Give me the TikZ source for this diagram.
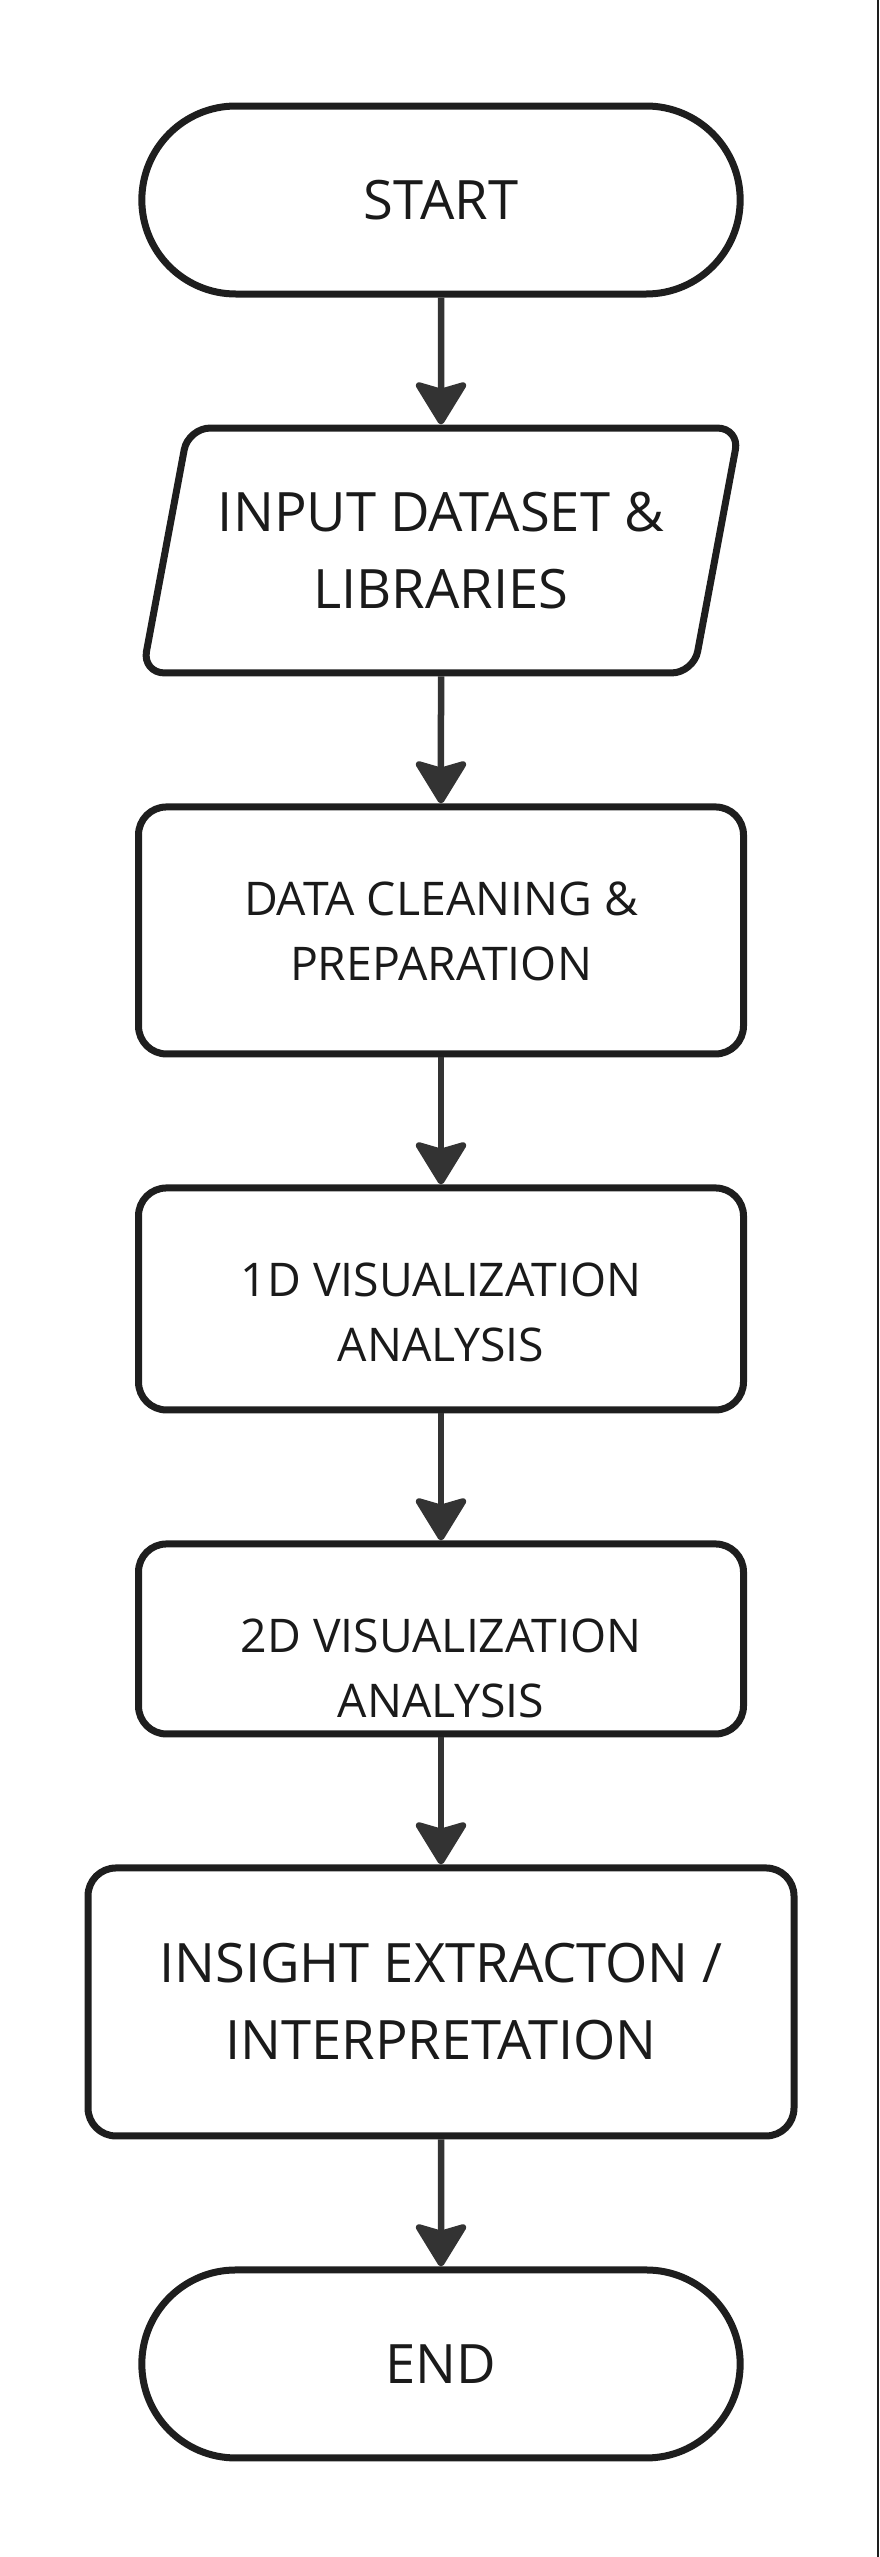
\documentclass[tikz,border=0pt]{standalone}
\usepackage{fontspec}
\setmainfont{Open Sans}
\usepackage{tikz}
\usetikzlibrary{shapes.geometric,shapes.misc,arrows.meta,positioning}
\definecolor{edgegray}{HTML}{1E1E1E}
\definecolor{arrowgray}{HTML}{333333}
\definecolor{inkgray}{HTML}{1A1A1A}
\newcommand{\bigfont}{\fontsize{54.3}{77}\selectfont}
\newcommand{\smallfont}{\fontsize{46.4}{65}\selectfont}
\tikzset
{
    terminal/.style  = {rounded rectangle, draw=edgegray, line width=7pt, minimum width=605pt, minimum height=188pt, text=inkgray, font=\bigfont},
    ioblock/.style   = {trapezium, trapezium left angle=79.4, trapezium right angle=100.6, trapezium stretches body, rounded corners=22pt, draw=edgegray, line width=7pt, inner ysep=64pt, minimum width=597pt, minimum height=244pt, align=center, text=inkgray, font=\bigfont},
    procblock/.style = {rectangle, rounded corners=28pt, draw=edgegray, line width=7pt, minimum width=605pt, align=center, text=inkgray, font=\bigfont},
    proctext/.style  = {align=center, text=inkgray, font=\smallfont, inner sep=0pt}
}

\begin{document}
\begin{tikzpicture}[->, >={Stealth[length=47pt, width=57pt, inset=8pt, round]}, flow/.style={draw=arrowgray, line width=6.5pt}]
    \useasboundingbox (0pt,0pt) rectangle (879pt,-2557pt);
    \node [terminal] (start) at (441pt,-200pt) {START};
    \node [ioblock, below=127pt of start] (input) {INPUT DATASET \&\\LIBRARIES};
    \node [procblock, minimum height=247pt, below=127pt of input] (clean) {};
    \node [proctext] (cleantext) at ([yshift=-128pt]clean.north) {DATA CLEANING \&\\PREPARATION};
    \node [procblock, minimum height=222pt, below=127pt of clean] (viz1) {};
    \node [proctext] (viz1text) at ([yshift=-128pt]viz1.north) {1D VISUALIZATION\\ANALYSIS};
    \node [procblock, minimum height=190pt, below=127pt of viz1] (viz2) {};
    \node [proctext] (viz2text) at ([yshift=-128pt]viz2.north) {2D VISUALIZATION\\ANALYSIS};
    \node [procblock, minimum width=706pt, minimum height=268pt, below=127pt of viz2] (insight) {INSIGHT EXTRACTON /\\INTERPRETATION};
    \node [terminal, below=127pt of insight] (stop) {END};

    \draw [flow] (start) -- (input);
    \draw [flow] (input) -- (clean);
    \draw [flow] (clean) -- (viz1);
    \draw [flow] (viz1) -- (viz2);
    \draw [flow] (viz2) -- (insight);
    \draw [flow] (insight) -- (stop);

    \draw [-, draw=edgegray, line width=2.5pt] (878pt,0pt) -- (878pt,-2557pt);
\end{tikzpicture}
\end{document}
